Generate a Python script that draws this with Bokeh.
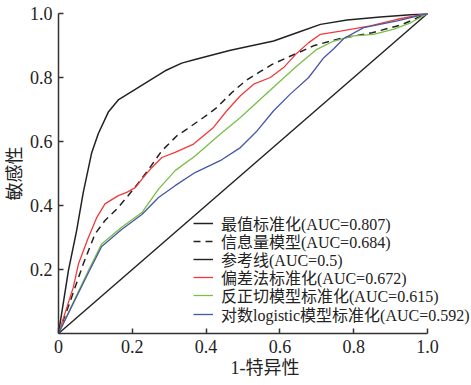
from bokeh.plotting import figure
from bokeh.models import Legend, LegendItem, FixedTicker, Range1d, Title
from bokeh.embed import file_html
from bokeh.resources import INLINE

# ---- data ----
max_x = [0, 0.027, 0.049, 0.067, 0.09, 0.108, 0.135, 0.162, 0.208, 0.244, 0.289, 0.334, 0.37, 0.466, 0.583, 0.646, 0.71, 0.782, 0.872, 1.0]
max_y = [0, 0.197, 0.321, 0.44, 0.565, 0.625, 0.692, 0.73, 0.763, 0.789, 0.821, 0.845, 0.856, 0.885, 0.914, 0.94, 0.966, 0.98, 0.989, 1.0]

info_x = [0, 0.03, 0.067, 0.099, 0.126, 0.158, 0.189, 0.221, 0.248, 0.28, 0.321, 0.348, 0.393, 0.429, 0.47, 0.506, 0.542, 0.579, 0.619, 0.651, 0.691, 0.737, 0.773, 0.85, 0.93, 1.0]
info_y = [0, 0.095, 0.217, 0.311, 0.353, 0.389, 0.431, 0.477, 0.519, 0.571, 0.618, 0.639, 0.675, 0.706, 0.753, 0.789, 0.815, 0.841, 0.862, 0.878, 0.899, 0.914, 0.924, 0.94, 0.965, 1.0]

ref_x = [0, 1.0]
ref_y = [0, 1.0]

dev_x = [0, 0.04, 0.054, 0.081, 0.104, 0.126, 0.162, 0.185, 0.208, 0.23, 0.253, 0.28, 0.316, 0.366, 0.42, 0.456, 0.493, 0.529, 0.574, 0.61, 0.646, 0.678, 0.71, 0.764, 0.845, 0.918, 1.0]
dev_y = [0, 0.144, 0.217, 0.30, 0.363, 0.405, 0.431, 0.441, 0.456, 0.488, 0.519, 0.55, 0.566, 0.592, 0.644, 0.696, 0.743, 0.779, 0.80, 0.831, 0.876, 0.909, 0.935, 0.945, 0.961, 0.982, 1.0]

atan_x = [0, 0.081, 0.099, 0.117, 0.171, 0.226, 0.271, 0.316, 0.37, 0.438, 0.493, 0.547, 0.601, 0.646, 0.7, 0.746, 0.80, 0.854, 0.909, 0.954, 1.0]
atan_y = [0, 0.197, 0.238, 0.28, 0.332, 0.378, 0.451, 0.509, 0.555, 0.623, 0.675, 0.732, 0.789, 0.836, 0.888, 0.914, 0.93, 0.935, 0.951, 0.971, 1.0]

log_x = [0, 0.081, 0.117, 0.171, 0.226, 0.271, 0.316, 0.37, 0.438, 0.493, 0.538, 0.583, 0.628, 0.678, 0.719, 0.746, 0.773, 0.827, 0.918, 1.0]
log_y = [0, 0.19, 0.272, 0.325, 0.372, 0.425, 0.462, 0.503, 0.54, 0.581, 0.633, 0.696, 0.748, 0.80, 0.862, 0.89, 0.922, 0.956, 0.977, 1.0]

labels = ["最值标准化(AUC=0.807)", "信息量模型(AUC=0.684)", "参考线(AUC=0.5)",
          "偏差法标准化(AUC=0.672)", "反正切模型标准化(AUC=0.615)", "对数logistic模型标准化(AUC=0.592)"]

x_ticks = [0, 0.2, 0.4, 0.6, 0.8, 1.0]
x_tick_labels = ["0", "0.2", "0.4", "0.6", "0.8", "1.0"]
y_ticks = [0.2, 0.4, 0.6, 0.8, 1.0]
y_tick_labels = ["0.2", "0.4", "0.6", "0.8", "1.0"]

SERIF = "'Liberation Serif', 'Noto Sans CJK SC'"

# layout (page pixels): frame left 58, top 13, bottom 333, x=1.0 at 427
W, H = 471, 385
LEFT, TOP, BOTTOM = 58, 13, 52
UNIT = 369.0  # pixels per x data unit
x_end = (W - LEFT) / UNIT  # frame extends to the right page edge so the legend is not clipped

p = figure(width=W, height=H, output_backend="svg", toolbar_location=None,
           x_range=Range1d(0, x_end), y_range=Range1d(0, 1),
           min_border_left=LEFT, min_border_right=0, min_border_top=TOP, min_border_bottom=BOTTOM)
p.background_fill_color = "white"
p.border_fill_color = "white"
p.outline_line_color = None
p.grid.visible = False

r_max = p.line(max_x, max_y, line_color="#222222", line_width=1.5)
r_info = p.line(info_x, info_y, line_color="#222222", line_width=1.5, line_dash="7 5")
r_ref = p.line(ref_x, ref_y, line_color="#222222", line_width=1.4)
r_dev = p.line(dev_x, dev_y, line_color="#f23a3a", line_width=1.3)
r_atan = p.line(atan_x, atan_y, line_color="#78bf45", line_width=1.3)
r_log = p.line(log_x, log_y, line_color="#4657a6", line_width=1.3)

for ax in (p.xaxis[0], p.yaxis[0]):
    ax.axis_line_color = "#333333"
    ax.axis_line_width = 1.5
    ax.major_tick_line_color = "#333333"
    ax.major_tick_line_width = 1.5
    ax.major_tick_in = 5
    ax.major_tick_out = 0
    ax.minor_tick_line_color = None
    ax.major_label_text_font = SERIF
    ax.major_label_text_font_size = "18px"
    ax.major_label_text_color = "#222222"
    ax.axis_label_text_font = SERIF
    ax.axis_label_text_font_size = "18px"
    ax.axis_label_text_font_style = "normal"
    ax.axis_label_text_color = "#222222"

p.xaxis.ticker = FixedTicker(ticks=x_ticks)
p.xaxis.major_label_overrides = dict(zip(x_ticks, x_tick_labels))
p.xaxis.major_label_standoff = 6
p.xaxis.bounds = (0, 1)
p.yaxis.ticker = FixedTicker(ticks=y_ticks)
p.yaxis.major_label_overrides = dict(zip(y_ticks, y_tick_labels))
p.yaxis.major_label_standoff = 6
p.yaxis.axis_label = "敏感性"
p.yaxis.axis_label_standoff = 2

frame_w = W - LEFT
xtitle = Title(text="1-特异性", align="center", offset=256 - (LEFT + frame_w / 2),
               text_font=SERIF, text_font_size="18px", text_font_style="normal",
               text_color="#222222", standoff=0)
p.add_layout(xtitle, "below")

# legend: one single-row legend per entry so the rows sit 18px apart
renderers = [r_max, r_info, r_ref, r_dev, r_atan, r_log]
for k, (lab, r) in enumerate(zip(labels, renderers)):
    row_center = 220.7 + 18.06 * k
    y_loc = 333 - (row_center + 14.5)
    lg = Legend(items=[LegendItem(label=lab, renderers=[r])],
                location=(135, y_loc), orientation="vertical",
                label_text_font=SERIF, label_text_font_size="16px", label_text_color="#222222",
                glyph_width=20, glyph_height=18, label_height=18, label_standoff=8,
                spacing=0, padding=0, margin=0,
                border_line_color=None, background_fill_alpha=0)
    p.add_layout(lg)

open("out.html", "w").write(file_html(p, INLINE))
